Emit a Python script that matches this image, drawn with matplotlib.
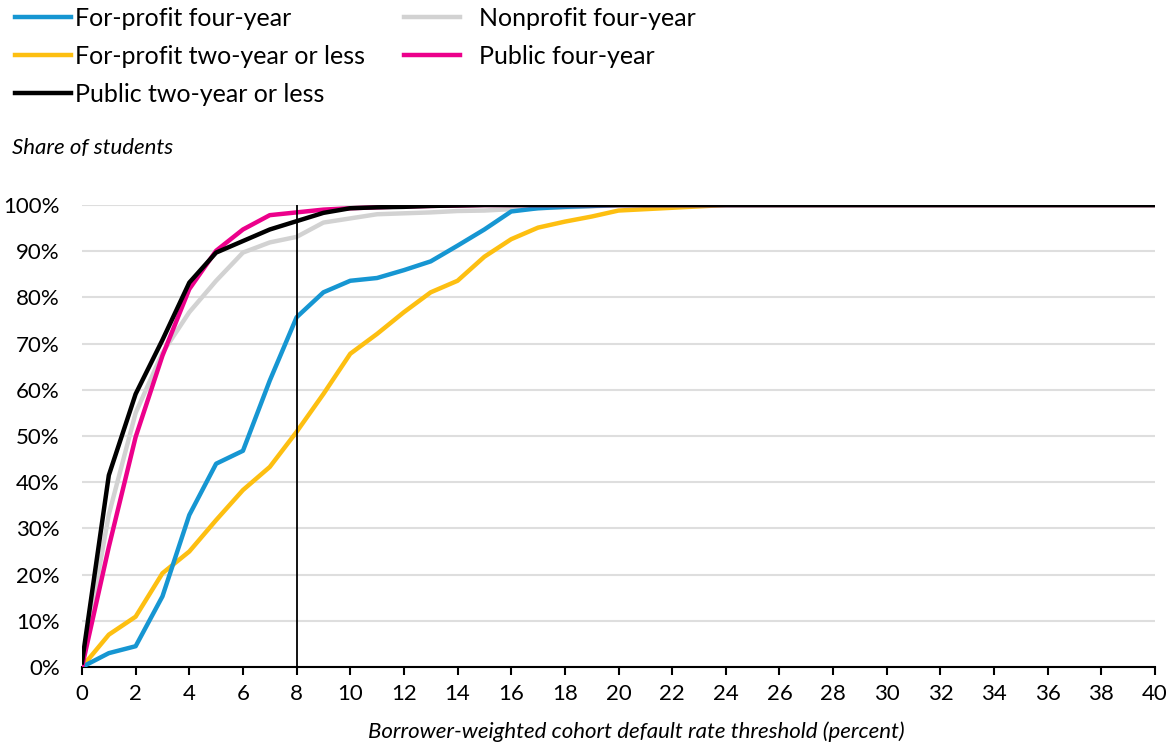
import numpy as np
import matplotlib
matplotlib.use("Agg")
import matplotlib.pyplot as plt
from matplotlib.ticker import MultipleLocator, FuncFormatter

plt.rcParams['font.family'] = ['Lato', 'DejaVu Sans']

# threshold (percent), 0..40
thresholds = list(range(0, 41))

# share of students (percent) at each threshold
forprofit_4yr = [0, 3.0, 4.5, 15.3, 32.9, 44.0, 46.8, 62.0, 75.7, 81.1,
                 83.6, 84.2, 85.9, 87.8, 91.2, 94.7, 98.6, 99.3, 99.6, 99.8,
                 100, 100, 100, 100, 100, 100, 100, 100, 100, 100,
                 100, 100, 100, 100, 100, 100, 100, 100, 100, 100, 100]
forprofit_2yr = [0, 7.0, 10.9, 20.3, 25.0, 31.8, 38.3, 43.3, 50.9, 59.1,
                 67.8, 72.1, 76.8, 81.1, 83.6, 88.8, 92.6, 95.1, 96.4, 97.5,
                 98.8, 99.1, 99.4, 99.7, 100, 100, 100, 100, 100, 100,
                 100, 100, 100, 100, 100, 100, 100, 100, 100, 100, 100]
nonprofit_4yr = [0.5, 33.0, 55.0, 68.0, 76.8, 83.6, 89.7, 91.9, 93.1, 96.2,
                 97.1, 98.0, 98.2, 98.4, 98.7, 98.8, 99.1, 99.3, 99.5, 99.7,
                 100, 100, 100, 100, 100, 100, 100, 100, 100, 100,
                 100, 100, 100, 100, 100, 100, 100, 100, 100, 100, 100]
public_4yr = [0, 26.0, 49.8, 67.4, 81.8, 90.1, 94.7, 97.8, 98.4, 99.0,
              99.3, 99.5, 99.7, 99.8, 99.9, 100, 100, 100, 100, 100,
              100, 100, 100, 100, 100, 100, 100, 100, 100, 100,
              100, 100, 100, 100, 100, 100, 100, 100, 100, 100, 100]
public_2yr = [1.0, 41.5, 59.1, 70.8, 83.2, 89.7, 92.2, 94.7, 96.5, 98.3,
              99.3, 99.5, 99.6, 99.8, 99.9, 100, 100, 100, 100, 100,
              100, 100, 100, 100, 100, 100, 100, 100, 100, 100,
              100, 100, 100, 100, 100, 100, 100, 100, 100, 100, 100]

fig = plt.figure(figsize=(11.75, 7.46), dpi=100)
ax = fig.add_axes([82 / 1175, 79 / 746, 1073 / 1175, 462 / 746])

x = np.array(thresholds)
lw = 3.2
l_gray, = ax.plot(x, np.array(nonprofit_4yr) / 100, color='#d2d2d2', lw=lw,
                  label='Nonprofit four-year', zorder=3)
l_yel, = ax.plot(x, np.array(forprofit_2yr) / 100, color='#fdbf11', lw=lw,
                 label='For-profit two-year or less', zorder=3)
l_blue, = ax.plot(x, np.array(forprofit_4yr) / 100, color='#1696d2', lw=lw,
                  label='For-profit four-year', zorder=3)
l_pink, = ax.plot(x, np.array(public_4yr) / 100, color='#ec008b', lw=lw,
                  label='Public four-year', zorder=3)
l_blk, = ax.plot(x, np.array(public_2yr) / 100, color='#000000', lw=lw,
                 label='Public two-year or less', zorder=3)

ax.axvline(8, color='black', lw=1.3, zorder=4)

ax.set_xlim(0, 40)
ax.set_ylim(0, 1)
ax.xaxis.set_major_locator(MultipleLocator(2))
ax.yaxis.set_major_locator(MultipleLocator(0.1))
ax.yaxis.set_major_formatter(FuncFormatter(lambda v, p: f"{v * 100:.0f}%"))
ax.grid(axis='y', color='#dedede', lw=1.5, zorder=0)
ax.set_axisbelow(True)

for s in ['top', 'right', 'left']:
    ax.spines[s].set_visible(False)
ax.spines['bottom'].set_linewidth(1.5)
ax.tick_params(axis='y', length=0, labelsize=16, pad=16)
ax.tick_params(axis='x', length=6, width=1.5, labelsize=16, pad=6)

ax.set_xlabel('Borrower-weighted cohort default rate threshold (percent)',
              fontsize=16, style='italic', labelpad=17)
ax.xaxis.set_label_coords((636 - 82) / 1073, -0.118)
fig.text(12 / 1175, 1 - 148 / 746, 'Share of students', fontsize=16,
         style='italic', va='center', ha='left')

leg_kw = dict(loc='upper left', frameon=False, fontsize=18, handlelength=2.25,
              labelspacing=0.6, borderaxespad=0, borderpad=0)
leg1 = fig.legend(handles=[l_blue, l_yel, l_blk], handletextpad=0.16,
                  bbox_to_anchor=(15 / 1175, 1 - 7 / 746), **leg_kw)
leg2 = fig.legend(handles=[l_gray, l_pink], handletextpad=0.75,
                  bbox_to_anchor=(404 / 1175, 1 - 7 / 746), **leg_kw)

fig.savefig('out.png', dpi=100)
